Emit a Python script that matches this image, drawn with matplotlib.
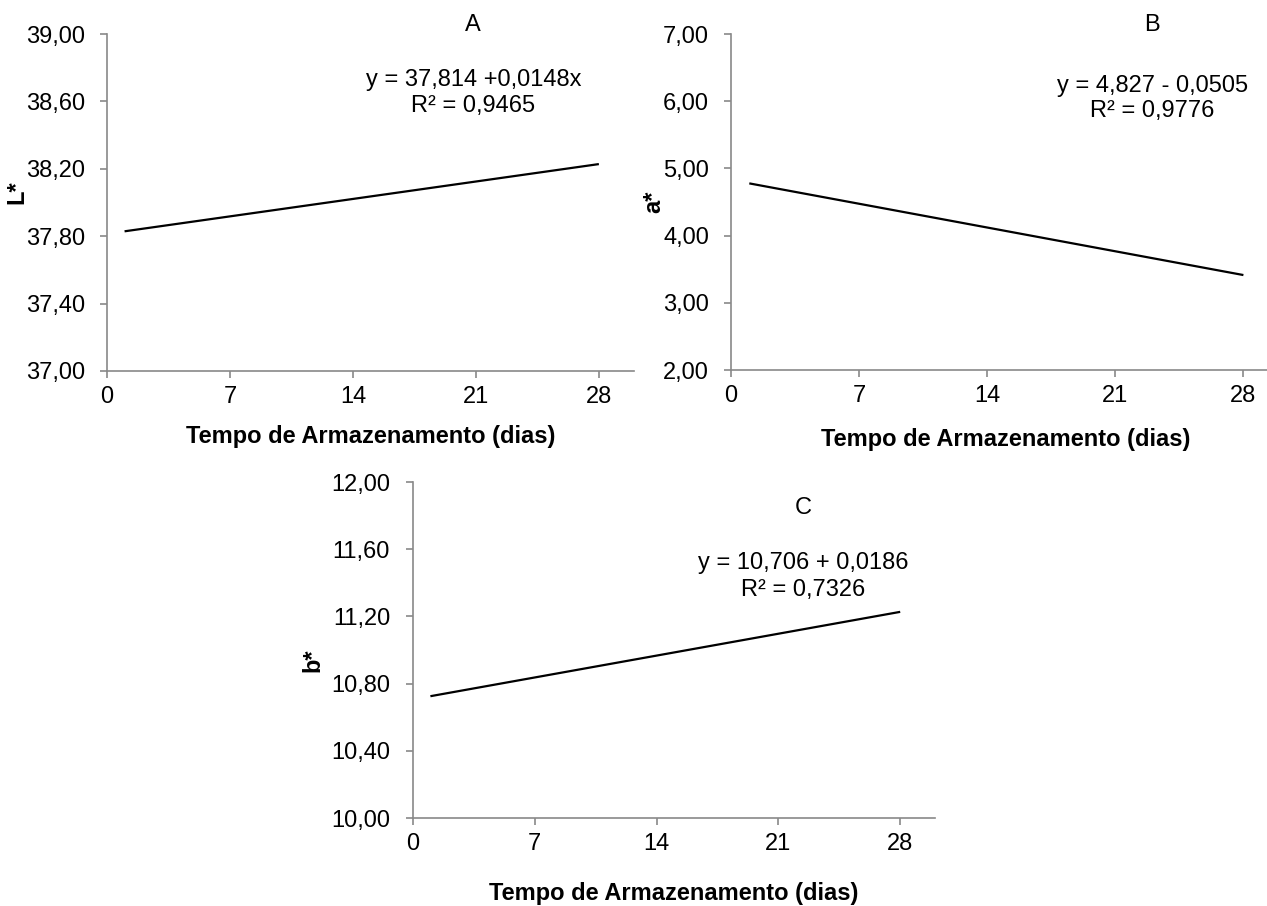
import matplotlib
matplotlib.use("Agg")
import matplotlib.pyplot as plt
from matplotlib.ticker import FuncFormatter

plt.rcParams['font.family'] = ['Liberation Sans', 'DejaVu Sans']

# storage time (days) at the ends of each fitted line
dias = [1, 28]
ticks_x = [0, 7, 14, 21, 28]

# fitted values at day 1 and day 28
L_vals = [37.829, 38.228]
a_vals = [4.777, 3.413]
b_vals = [10.725, 11.227]

L_ticks = [37.0, 37.4, 37.8, 38.2, 38.6, 39.0]
a_ticks = [2, 3, 4, 5, 6, 7]
b_ticks = [10.0, 10.4, 10.8, 11.2, 11.6, 12.0]

eq_L = ["y = 37,814 +0,0148x", "R² = 0,9465"]
eq_a = ["y = 4,827 - 0,0505", "R² = 0,9776"]
eq_b = ["y = 10,706 + 0,0186", "R² = 0,7326"]

xlab = "Tempo de Armazenamento (dias)"
W, H = 1267, 906
FS = 17
GRAY = "#898989"

fig = plt.figure(figsize=(W / 100, H / 100), dpi=100)


def px_axes(left, top, right, bottom):
    return fig.add_axes([left / W, 1 - bottom / H, (right - left) / W, (bottom - top) / H])


def comma_fmt(v, pos):
    return f"{v:.2f}".replace(".", ",")


def painel(ax, y, yticks, letra, eq, ylab, letra_pos, eq_y, ylab_pos, xlab_y, ypad):
    ax.plot(dias, y, color="black", lw=1.6, solid_capstyle="butt")
    ax.set_xlim(0, 30)
    ax.set_ylim(yticks[0], yticks[-1])
    ax.set_xticks(ticks_x)
    ax.set_yticks(yticks)
    ax.yaxis.set_major_formatter(FuncFormatter(comma_fmt))
    for s in ["top", "right"]:
        ax.spines[s].set_visible(False)
    for s in ["left", "bottom"]:
        ax.spines[s].set_color(GRAY)
        ax.spines[s].set_linewidth(1.2)
    ax.tick_params(axis="both", direction="out", length=5, width=1.2, color=GRAY,
                   labelsize=FS, labelcolor="black")
    ax.tick_params(axis="y", pad=ypad)
    ax.tick_params(axis="x", pad=6)
    ax.set_clip_on(False)

    ax.text(letra_pos[0], letra_pos[1], letra, transform=ax.transAxes,
            ha="center", va="center", fontsize=FS)
    ax.text(letra_pos[0], eq_y[0], eq[0], transform=ax.transAxes,
            ha="center", va="center", fontsize=FS)
    ax.text(letra_pos[0], eq_y[1], eq[1], transform=ax.transAxes,
            ha="center", va="center", fontsize=FS)

    ax.set_ylabel(ylab, fontsize=FS, fontweight="bold")
    ax.yaxis.set_label_coords(ylab_pos[0], ylab_pos[1])
    ax.set_xlabel(xlab, fontsize=FS, fontweight="bold")
    ax.xaxis.set_label_coords(0.5, xlab_y)


axA = px_axes(107, 34, 634, 371)
painel(axA, L_vals, L_ticks, "A", eq_L, "L*", (0.695, 1.027), (0.864, 0.786),
       (-0.15, 0.53), -0.16, 10.8)

axB = px_axes(731, 34, 1280, 370)
painel(axB, a_vals, a_ticks, "B", eq_a, "a*", (0.767, 1.027), (0.845, 0.77),
       (-0.12, 0.5), -0.173, 10.8)

axC = px_axes(413, 482, 935, 818)
painel(axC, b_vals, b_ticks, "C", eq_b, "b*", (0.747, 0.923), (0.759, 0.679),
       (-0.169, 0.47), -0.19, 11.5)

fig.savefig("out.png", dpi=100)
